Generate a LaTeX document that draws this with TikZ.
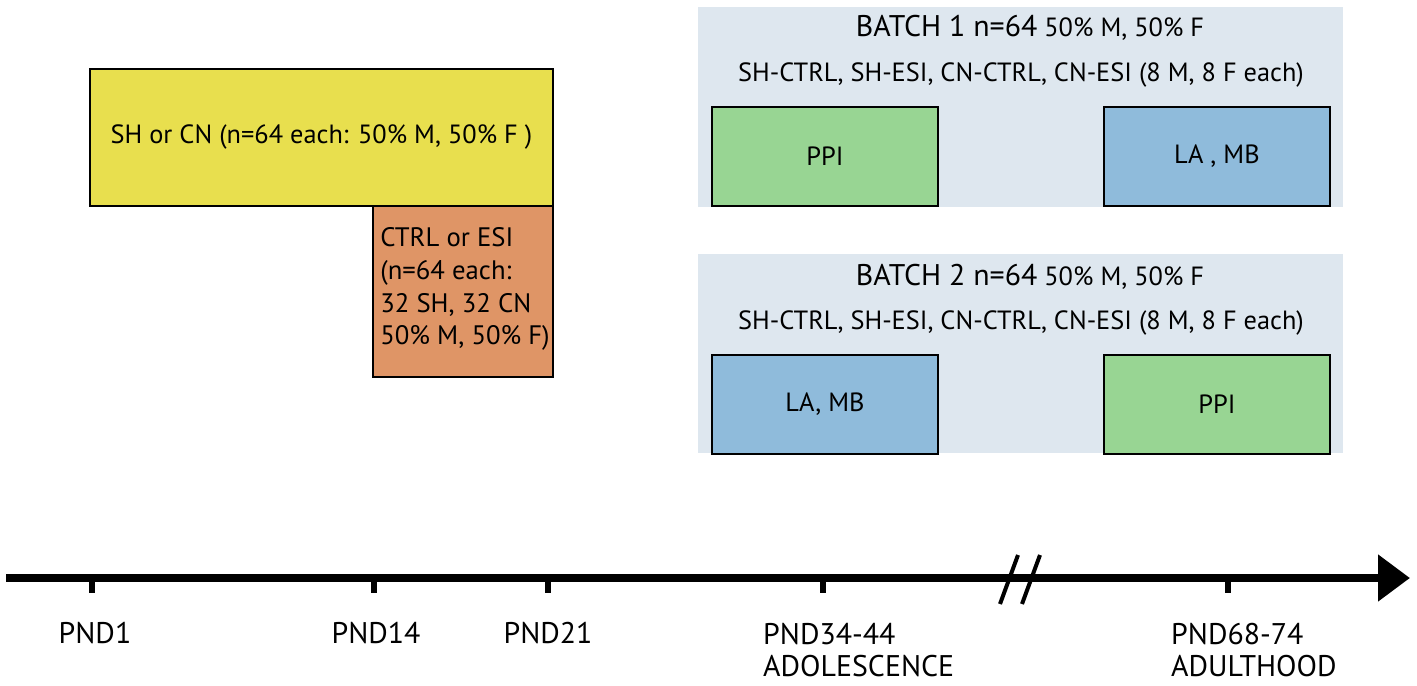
\documentclass[tikz,border=0pt]{standalone}
\usepackage{fontspec}
\setmainfont{PT Sans}
\usetikzlibrary{arrows.meta}
\definecolor{sexcol}{HTML}{E8DF4E}
\definecolor{isocol}{HTML}{DF9566}
\definecolor{batchcol}{HTML}{DEE7EF}
\definecolor{ppicol}{HTML}{98D593}
\definecolor{lamcol}{HTML}{8FBBDB}
\tikzset{
  box/.style={draw, rectangle, line width=1.1pt, anchor=north west, inner sep=0pt},
  batch/.style={rectangle, fill=batchcol, anchor=north west, inner sep=0pt, minimum width=12.9cm},
  tick/.style={line width=0.12cm},
  lbl/.style={font=\fontsize{17}{18.7}\selectfont},
}
\begin{document}
\begin{tikzpicture}[x=0.02cm, y=-0.02cm, font=\fontsize{15}{19}\selectfont]
			\useasboundingbox (0,0) rectangle (1417,686);
			% rearing and isolation
			\node[box, fill=sexcol, minimum width=9.26cm, minimum height=2.74cm] (rearing) at (89,68) {SH or CN (n=64 each: 50\% M, 50\% F )};
			\node[box, fill=isocol, minimum width=3.6cm, minimum height=3.42cm] (isolation) at (372,205) {};
			\node[anchor=north west, align=left, inner sep=0pt, font=\fontsize{15.2}{18.7}\selectfont] (isotext) at (380,227) {CTRL or ESI\\(n=64 each:\\32 SH, 32 CN\\50\% M, 50\% F)};
			% batch 1
			\node[batch, minimum height=4cm] (batch1) at (698,7) {};
			\node (title1) at (1030,28) {{\fontsize{17}{19}\selectfont BATCH 1 n=64} 50\% M, 50\% F};
			\node (groups1) at (1021,75) {SH-CTRL, SH-ESI, CN-CTRL, CN-ESI (8 M, 8 F each)};
			\node[box, fill=ppicol, minimum width=4.52cm, minimum height=1.98cm] (ppi1) at (711,106) {PPI};
			\node[box, fill=lamcol, minimum width=4.52cm, minimum height=1.98cm] (lamb1) at (1103,106) {LA , MB};
			% batch 2
			\node[batch, minimum height=3.98cm] (batch2) at (698,254) {};
			\node (title2) at (1030,277) {{\fontsize{17}{19}\selectfont BATCH 2 n=64} 50\% M, 50\% F};
			\node (groups2) at (1021,323) {SH-CTRL, SH-ESI, CN-CTRL, CN-ESI (8 M, 8 F each)};
			\node[box, fill=lamcol, minimum width=4.52cm, minimum height=1.98cm] (lamb2) at (711,354) {LA, MB};
			\node[box, fill=ppicol, minimum width=4.52cm, minimum height=1.98cm] (ppi2) at (1103,354) {PPI};
			% timeline
			\coordinate (start) at (6,578);
			\coordinate (end) at (1410,578);
			\draw[line width=0.16cm, -{Triangle[length=0.64cm, width=0.9cm]}] (start) -- (end);
			\draw[line width=0.08cm] (1000,604) -- (1018,555);
			\draw[line width=0.08cm] (1022,604) -- (1040,555);
			\foreach \x in {92,374,548,823,1228}
				\draw[tick] (\x,578) -- (\x,593);
			\node[lbl] (pnd1) at (95,633) {PND1};
			\node[lbl] (pnd14) at (376,633) {PND14};
			\node[lbl] (pnd21) at (548,633) {PND21};
			\node[lbl, anchor=west, align=left] (pnd34) at (757,650) {PND34-44\\ADOLESCENCE};
			\node[lbl, anchor=west, align=left] (pnd68) at (1165,650) {PND68-74\\ADULTHOOD};
		
		\end{tikzpicture}
\end{document}
